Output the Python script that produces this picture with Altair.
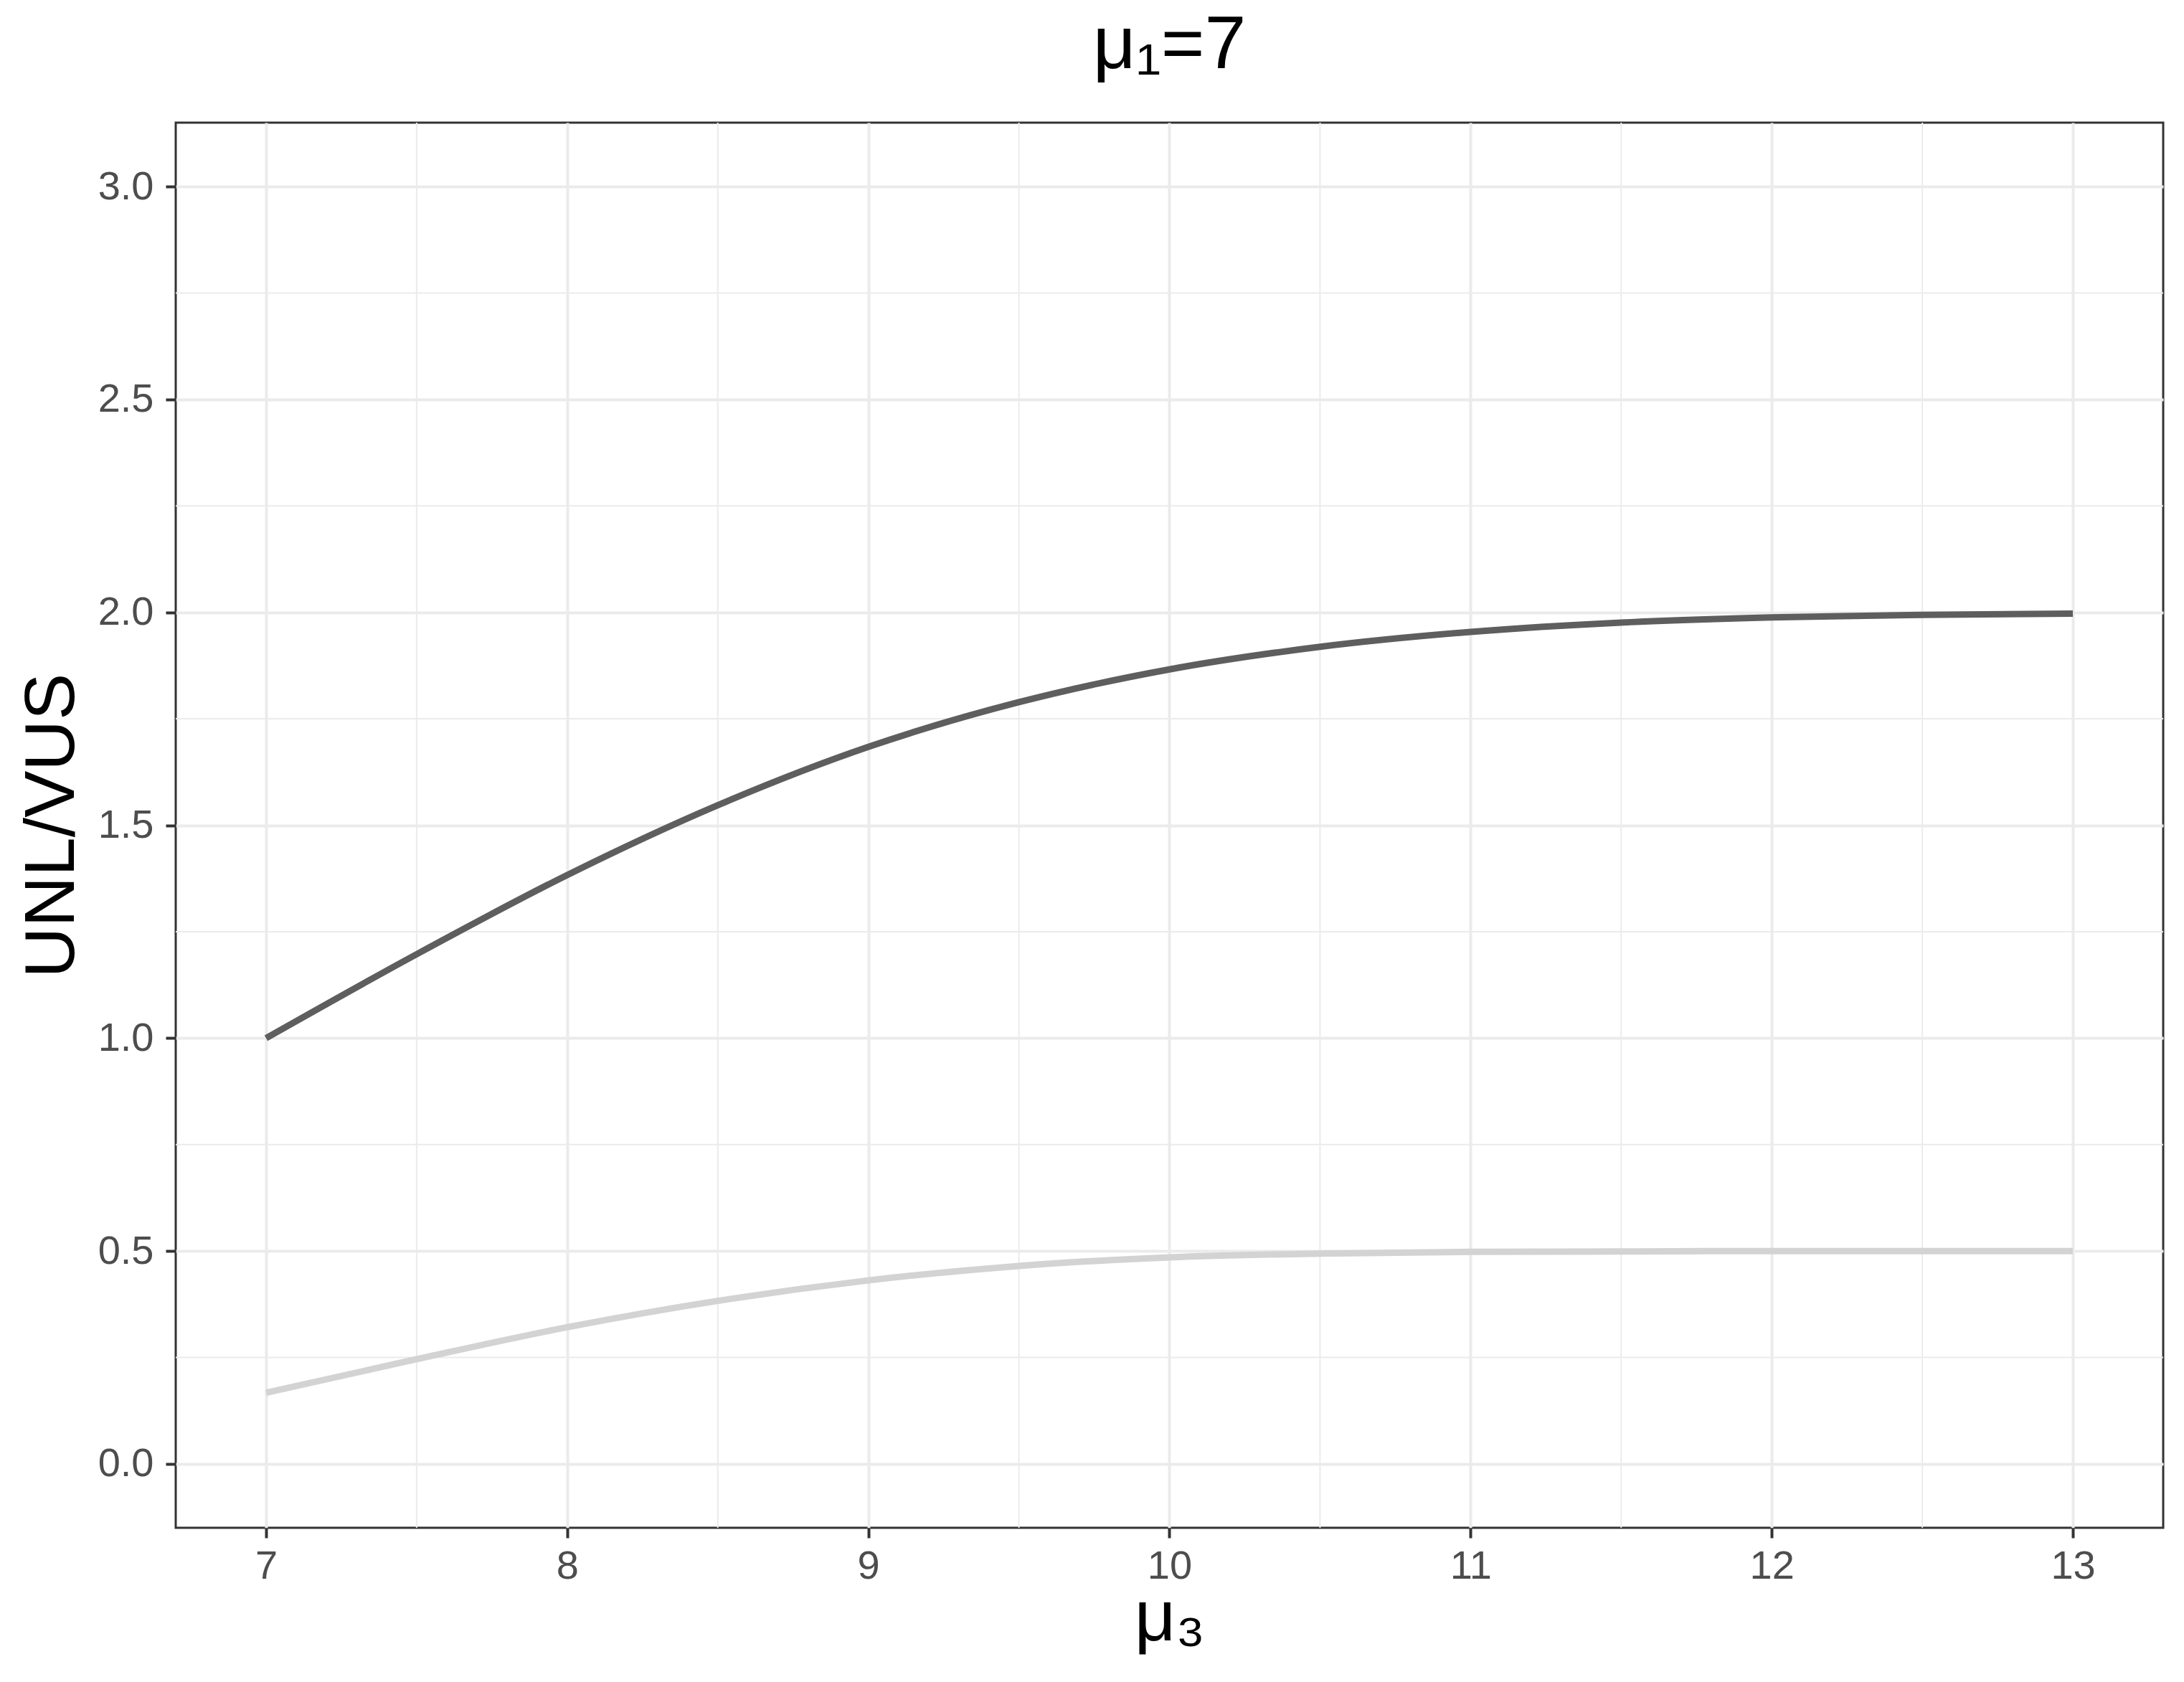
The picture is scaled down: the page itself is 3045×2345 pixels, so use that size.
import altair as alt
import pandas as pd

# values
mu3 = [7.0, 7.5, 8.0, 8.5, 9.0, 9.5, 10.0, 10.5, 11.0, 11.5, 12.0, 12.5, 13.0]
unl = [1.000, 1.197, 1.383, 1.547, 1.684, 1.789, 1.866, 1.919, 1.954, 1.976, 1.988, 1.994, 1.997]
vus = [0.167, 0.246, 0.321, 0.383, 0.431, 0.465, 0.485, 0.494, 0.498, 0.499, 0.500, 0.500, 0.500]

x_major = [7, 8, 9, 10, 11, 12, 13]
x_minor = [7.5, 8.5, 9.5, 10.5, 11.5, 12.5]
y_major = [0.0, 0.5, 1.0, 1.5, 2.0, 2.5, 3.0]
y_minor = [0.25, 0.75, 1.25, 1.75, 2.25, 2.75]

series_names = ["UNL", "VUS"]
series_colors = ["#5E5E5E", "#D3D3D3"]

rows = []
for name, vals in zip(series_names, [unl, vus]):
    for m, v in zip(mu3, vals):
        rows.append({"mu3": m, "value": v, "series": name})
df = pd.DataFrame(rows)

xscale = alt.Scale(domain=[6.7, 13.3], nice=False, zero=False)
yscale = alt.Scale(domain=[-0.15, 3.15], nice=False, zero=False)

W, H = 2771, 1959

xaxis = alt.Axis(
    values=x_major, format="d", grid=True, domain=False,
    title="μ₃", titleFontSize=100, titleColor="black", titleFontWeight="normal",
    titleX=W / 2, titleY=156, titleAlign="center", titleBaseline="alphabetic",
    labelPadding=12,
)
yaxis = alt.Axis(
    values=y_major, format=".1f", grid=True, domain=False,
    title="UNL/VUS", titleFontSize=98, titleColor="black", titleFontWeight="normal",
    titleX=-143, titleY=H / 2, titleAlign="center", titleBaseline="alphabetic", titleAngle=270,
    labelPadding=17,
)

minor_x = alt.Chart(pd.DataFrame({"xm": x_minor})).mark_rule(
    color="#EBEBEB", strokeWidth=2
).encode(x=alt.X("xm:Q", scale=xscale, axis=xaxis))

minor_y = alt.Chart(pd.DataFrame({"ym": y_minor})).mark_rule(
    color="#EBEBEB", strokeWidth=2
).encode(y=alt.Y("ym:Q", scale=yscale, axis=yaxis))

lines = alt.Chart(df).mark_line(strokeWidth=9, interpolate="monotone", clip=True).encode(
    x=alt.X("mu3:Q", scale=xscale, axis=xaxis),
    y=alt.Y("value:Q", scale=yscale, axis=yaxis),
    color=alt.Color("series:N", scale=alt.Scale(domain=series_names, range=series_colors), legend=None),
    detail="series:N",
)

chart = alt.layer(minor_x, minor_y, lines).properties(
    width=W,
    height=H,
    title=alt.TitleParams(
        text="μ₁=7", fontSize=104, font="Liberation Sans", color="black",
        fontWeight="normal", anchor="middle", baseline="alphabetic", offset=-29,
    ),
    autosize=alt.AutoSizeParams(type="none"),
    padding={"left": 237, "top": 163, "right": 21, "bottom": 200},
).configure(
    font="Liberation Sans",
).configure_view(
    stroke="#333333", strokeWidth=3,
).configure_axis(
    labelFont="Liberation Sans", labelFontSize=56, labelColor="#4D4D4D",
    titleFont="Liberation Sans",
    tickColor="#333333", tickWidth=4, tickSize=14,
    gridColor="#EBEBEB", gridWidth=4,
)

chart.save("out.html", embed_options={"renderer": "svg", "actions": False})
